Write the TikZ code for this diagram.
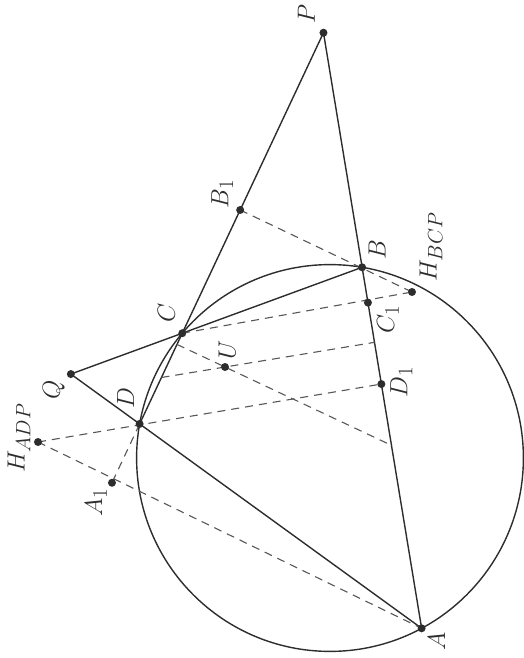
\documentclass[tikz,border=0pt]{standalone}
\usetikzlibrary{calc}
\definecolor{ink}{RGB}{45,45,45}
\begin{document}
\begin{tikzpicture}[x=1pt,y=-1pt,
  ln/.style={line width=1.4pt, draw=ink},
  dsh/.style={line width=1.1pt, draw=ink!80, dash pattern=on 8pt off 6pt},
  dot/.style={circle, fill=ink, inner sep=0pt, minimum size=8pt},
  lab/.style={rotate=90, text=ink, font=\fontsize{24.88}{28}\selectfont, inner sep=0pt}]
\useasboundingbox (0,0) rectangle (523,658);
% circle and points on it
\coordinate (O) at (330,458);
\coordinate (A) at ($(O)+(61.72:193.4)$);
\coordinate (B) at ($(O)+(-80.44:193.4)$);
\coordinate (C) at ($(O)+(220.18:193.4)$);
\coordinate (D) at ($(O)+(190.15:193.4)$);
% constructed points
\coordinate (P) at (intersection of A--B and C--D);
\coordinate (Q) at (intersection of A--D and B--C);
\coordinate (B1) at ($(P)!(B)!(D)$);
\coordinate (C1) at ($(P)!(C)!(A)$);
\coordinate (A1) at ($(P)!(A)!(D)$);
\coordinate (D1) at ($(P)!(D)!(A)$);
% orthocentres of BCP and ADP (placed as in the figure)
\coordinate (Hb) at (412,292);
\coordinate (Ha) at (38,442);
\coordinate (U) at ($(Ha)!0.5!(Hb)$);
\coordinate (M1) at ($(P)!(U)!(A)$);
\coordinate (M2) at ($(P)!(U)!(D)$);
\coordinate (E1) at (intersection of U--M1 and P--D);
\coordinate (E2) at (intersection of U--M2 and P--A);
% solid lines
\draw[ln] (O) circle[radius=193.4pt];
\draw[ln] (P) -- (A);
\draw[ln] (P) -- (D);
\draw[ln] (Q) -- (A);
\draw[ln] (Q) -- (B);
% dashed lines
\draw[dsh] (B1) -- (Hb);
\draw[dsh] (C) -- (Hb);
\draw[dsh] (Ha) -- (D1);
\draw[dsh] (Ha) -- (A);
\draw[dsh] (D) -- (A1);
\draw[dsh] (E1) -- (M1);
\draw[dsh] (M2) -- (E2);
% dots
\foreach \p in {A,B,C,D,P,Q,A1,B1,C1,D1,Ha,Hb,U}
  \node[dot] (n\p) at (\p) {};
% labels
\node[lab] (lP) at ($(P)+(-17,-19)$) {$P$};
\node[lab] (lB1) at ($(B1)+(-18,-16)$) {$B_1$};
\node[lab] (lB) at ($(B)+(15,-18)$) {$B$};
\node[lab] (lHb) at ($(Hb)+(19,-45)$) {$H_{BCP}$};
\node[lab] (lC1) at ($(C1)+(20,17)$) {$C_1$};
\node[lab] (lC) at ($(C)+(-16,-20)$) {$C$};
\node[lab] (lU) at ($(U)+(2,-17)$) {$U$};
\node[lab] (lD1) at ($(D1)+(20,-2)$) {$D_1$};
\node[lab] (lQ) at ($(Q)+(-17,16)$) {$Q$};
\node[lab] (lD) at ($(D)+(-14,-26)$) {$D$};
\node[lab] (lHa) at ($(Ha)+(-19,-4)$) {$H_{ADP}$};
\node[lab] (lA1) at ($(A1)+(-16,20)$) {$A_1$};
\node[lab] (lA) at ($(A)+(15,13)$) {$A$};
\end{tikzpicture}
\end{document}
